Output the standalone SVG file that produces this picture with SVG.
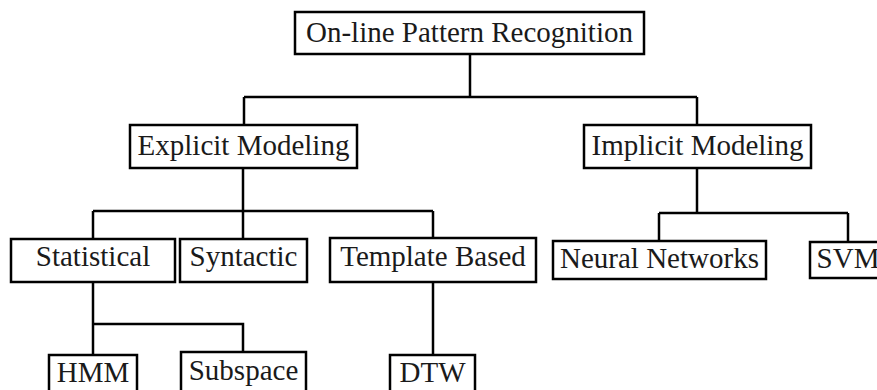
<svg xmlns="http://www.w3.org/2000/svg" width="877" height="390" viewBox="0 0 877 390">
<style>
  rect{fill:#fff;stroke:#000;stroke-width:2.5}
  text{font-family:"Liberation Serif","DejaVu Serif",serif;font-size:29px;fill:#1a1a1a;text-anchor:middle}
  #connectors path{fill:none;stroke:#000;stroke-width:2.5}
</style>
<rect x="0" y="0" width="877" height="390" style="stroke:none"/>
<g id="connectors">
  <path d="M470 54 V97"/>
  <path d="M244 97 H697"/>
  <path d="M244 97 V125"/>
  <path d="M697 97 V125"/>
  <path d="M243 168 V211"/>
  <path d="M93 211 H433"/>
  <path d="M93 211 V239"/>
  <path d="M243 211 V239"/>
  <path d="M433 211 V238"/>
  <path d="M697 168 V213"/>
  <path d="M659 213 H848"/>
  <path d="M659 213 V241"/>
  <path d="M848 213 V242"/>
  <path d="M93 282 V355"/>
  <path d="M93 324 H243 V352"/>
  <path d="M433 282 V355"/>
</g>
<g id="root"><rect x="295" y="12" width="349" height="42"/><text x="469.5" y="42">On-line Pattern Recognition</text></g>
<g id="explicit"><rect x="130" y="125" width="227" height="43"/><text x="243.5" y="155">Explicit Modeling</text></g>
<g id="implicit"><rect x="584" y="125" width="227" height="43"/><text x="697.5" y="155">Implicit Modeling</text></g>
<g id="statistical"><rect x="11" y="239" width="164" height="43"/><text x="93" y="266">Statistical</text></g>
<g id="syntactic"><rect x="180" y="239" width="127" height="43"/><text x="243.5" y="266">Syntactic</text></g>
<g id="template"><rect x="330" y="238" width="206" height="44"/><text x="433" y="266">Template Based</text></g>
<g id="neural"><rect x="553" y="241" width="213" height="38"/><text x="659.5" y="268">Neural Networks</text></g>
<g id="svm"><rect x="810" y="242" width="76" height="36"/><text x="848" y="268">SVM</text></g>
<g id="hmm"><rect x="49" y="355" width="88" height="50"/><text x="93" y="382">HMM</text></g>
<g id="subspace"><rect x="181" y="352" width="125" height="53"/><text x="243.5" y="380">Subspace</text></g>
<g id="dtw"><rect x="390" y="355" width="85" height="50"/><text x="432.5" y="382">DTW</text></g>
</svg>
